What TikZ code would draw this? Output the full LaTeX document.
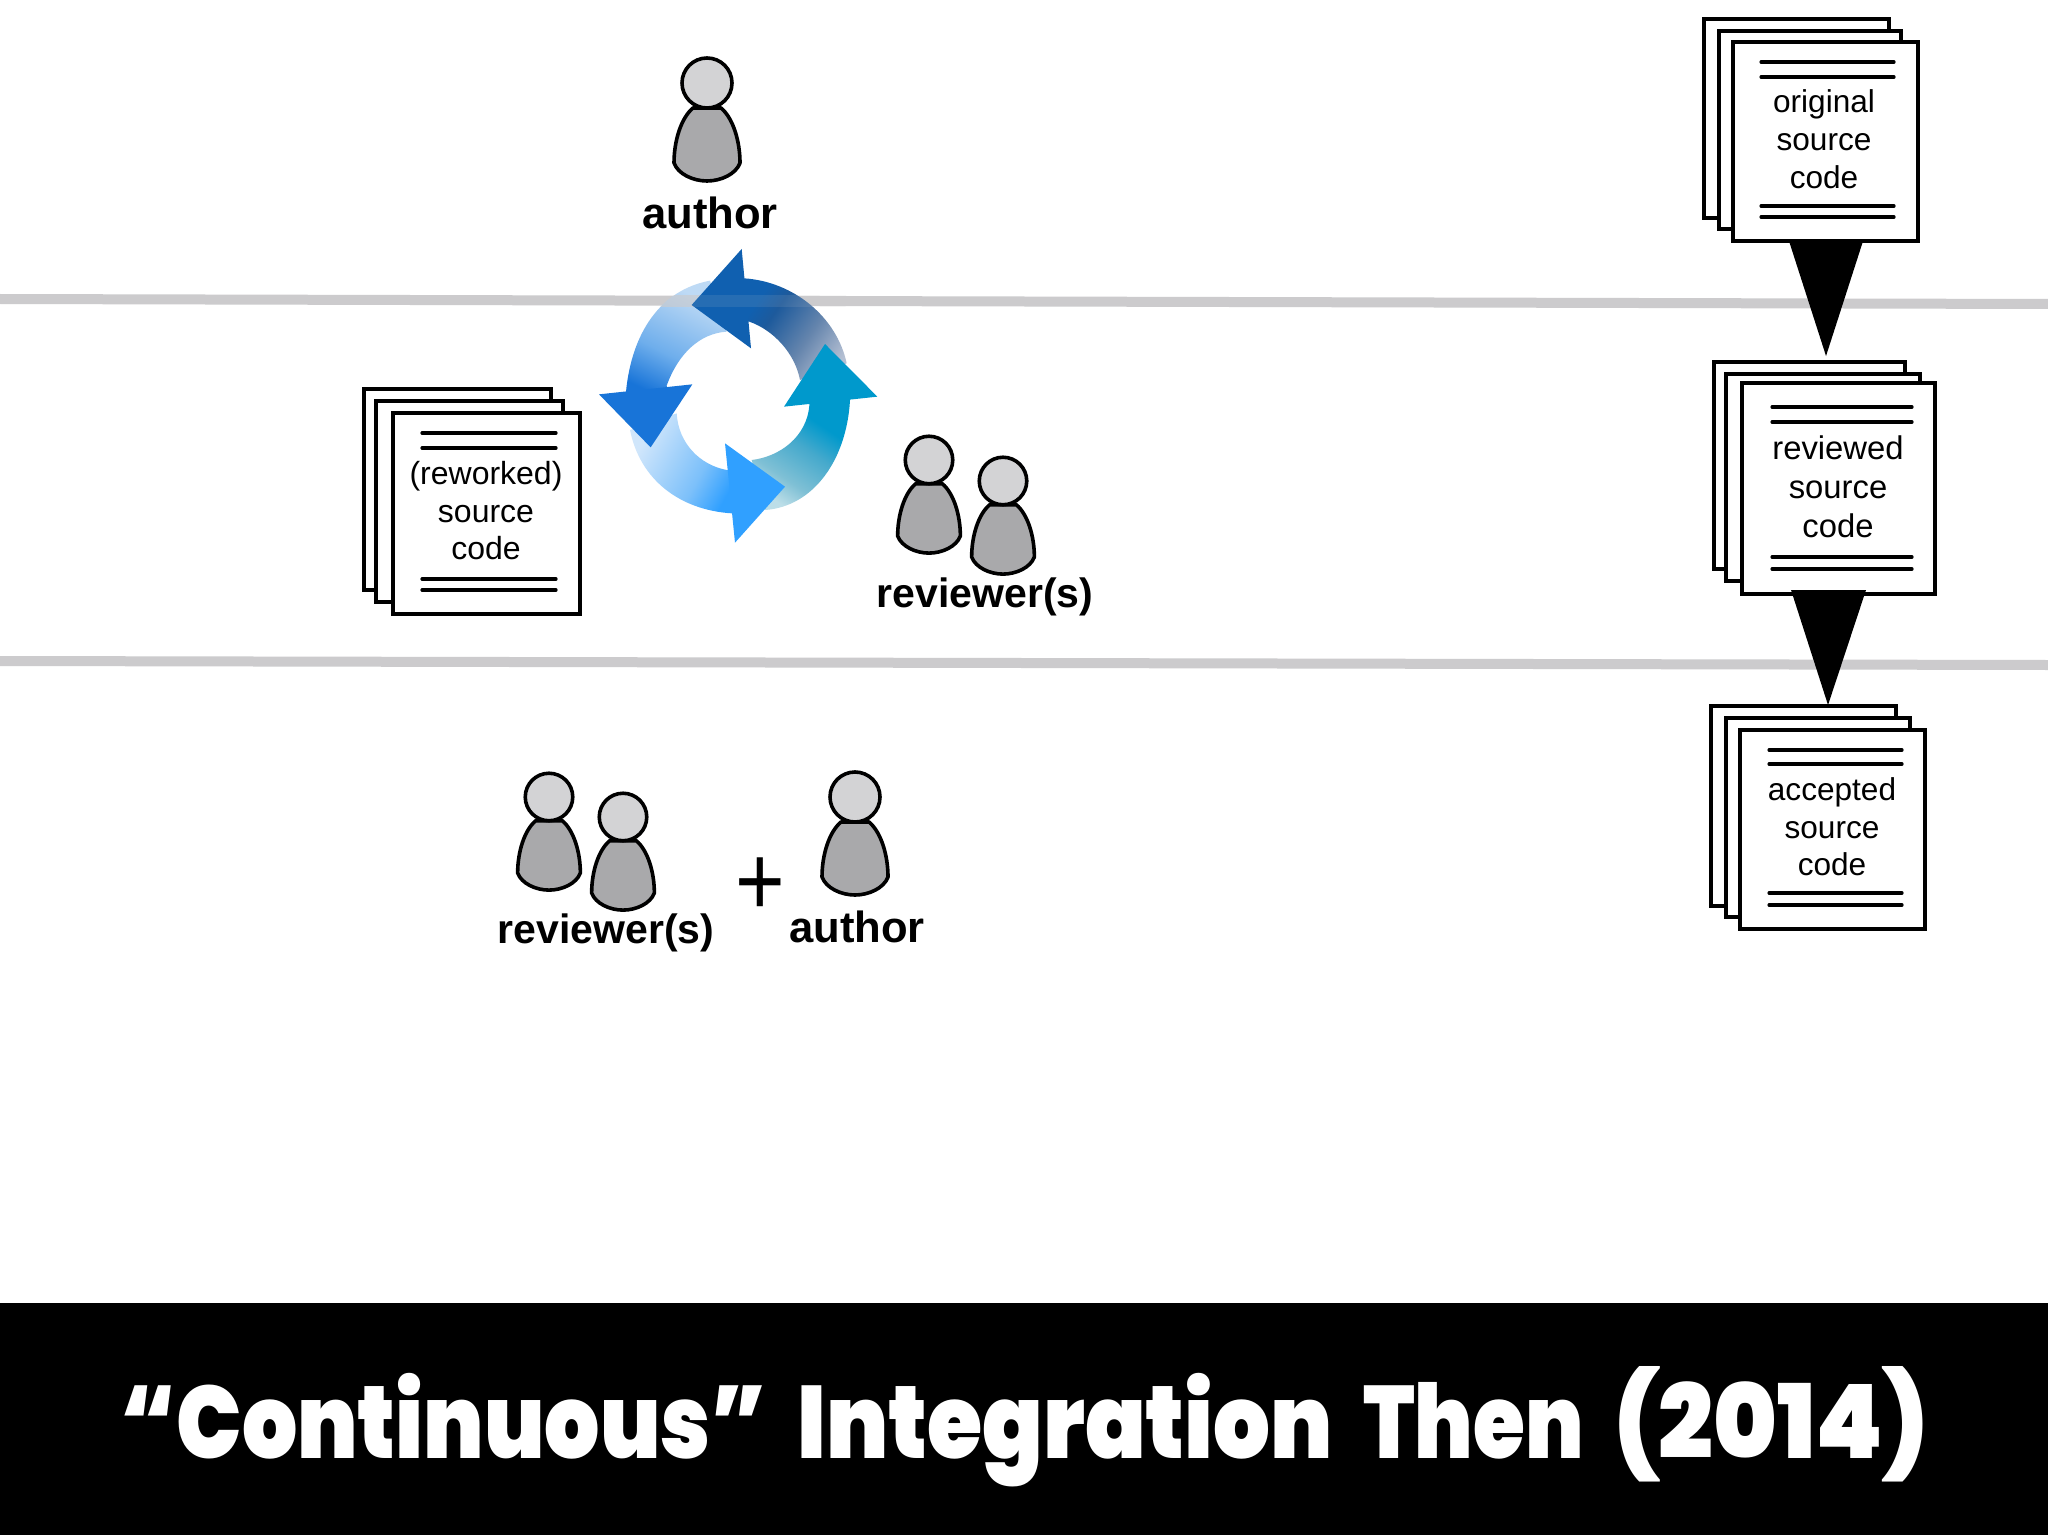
\documentclass[tikz,border=0pt]{standalone}
\usepackage{fontspec}
\usepackage{graphicx}
\setmainfont{Liberation Sans}
\newfontfamily\titlefont{Poppins}[UprightFont=* Black,WordSpace=2]
\definecolor{headgray}{HTML}{D3D3D5}
\definecolor{bodygray}{HTML}{A9A9AB}
\definecolor{rulegray}{HTML}{CCCBCD}
\definecolor{topA}{RGB}{16,96,176}
\definecolor{topB}{RGB}{29,90,156}
\definecolor{topD}{RGB}{101,133,173}
\definecolor{topC}{RGB}{181,192,211}
\definecolor{leftA}{RGB}{24,116,216}
\definecolor{leftB}{RGB}{110,174,236}
\definecolor{leftC}{RGB}{190,218,245}
\definecolor{botA}{RGB}{48,160,255}
\definecolor{botB}{RGB}{124,192,250}
\definecolor{botC}{RGB}{208,230,251}
\definecolor{rightA}{RGB}{0,153,204}
\definecolor{rightB}{RGB}{69,169,204}
\definecolor{rightD}{RGB}{127,192,213}
\definecolor{rightC}{RGB}{188,222,232}
\pgfdeclareverticalshading{topgrad}{100bp}{color(0bp)=(topC); color(23bp)=(topC); color(42bp)=(topD); color(62bp)=(topB); color(72bp)=(topA); color(100bp)=(topA)}
\pgfdeclareverticalshading{leftgrad}{100bp}{color(0bp)=(leftC); color(29bp)=(leftC); color(58bp)=(leftB); color(77bp)=(leftA); color(100bp)=(leftA)}
\pgfdeclareverticalshading{botgrad}{100bp}{color(0bp)=(botC); color(28bp)=(botC); color(60bp)=(botB); color(76bp)=(botA); color(100bp)=(botA)}
\pgfdeclareverticalshading{rightgrad}{100bp}{color(0bp)=(rightC); color(25bp)=(rightC); color(36bp)=(rightD); color(53bp)=(rightB); color(66bp)=(rightA); color(100bp)=(rightA)}
\tikzset{
  pagebox/.style={draw=black,fill=white,line width=1.55pt,line join=miter},
  rulestroke/.style={draw=black,line width=1.6pt,line cap=round},
  bodyshape/.style={draw=black,fill=bodygray,line width=1.8pt,line join=round},
  headshape/.style={draw=black,fill=headgray,line width=1.8pt},
  doctext/.style={inner sep=0pt,align=center,text=black},
  personlabel/.style={inner sep=0pt,anchor=base,text=black},
  band/.style={draw=rulegray,line width=5pt},
  pointer/.style={fill=black,draw=none}
}
\newcommand\person[3]{%
  \begin{scope}[shift={(#1,#2)},scale=#3]
    \draw[bodyshape] (-14,25) .. controls (-26,35) and (-33,58) .. (-33,80)
      .. controls (-29,91) and (-14,98) .. (0,98)
      .. controls (14,98) and (29,91) .. (33,80)
      .. controls (33,58) and (26,35) .. (14,25) -- cycle;
    \draw[headshape] (0,0) circle (25);
  \end{scope}}
\newcommand\pagerect[4]{\draw[pagebox] (#1,#2) rectangle (#3,#4);}
\newcommand\rules[6]{%
  \draw[rulestroke] (#1,#3) -- (#2,#3);
  \draw[rulestroke] (#1,#4) -- (#2,#4);
  \draw[rulestroke] (#1,#5) -- (#2,#5);
  \draw[rulestroke] (#1,#6) -- (#2,#6);}
\newcommand\topshaft{(541,115) -- (553,115) .. controls (700,125) and (830,230) .. (860,370) -- (720,420) .. controls (705,340) and (640,270) .. (568,245) -- (556,245) -- cycle}
\newcommand\leftshaft{(200,470) -- (198,455) .. controls (215,280) and (300,150) .. (450,122) -- (500,275) .. controls (420,280) and (355,340) .. (320,437) -- (322,452) -- cycle}
\newcommand\botshaft{(527,820) -- (515,820) .. controls (360,810) and (240,720) .. (210,570) -- (350,520) .. controls (355,610) and (420,675) .. (500,690) -- (512,690) -- cycle}
\newcommand\rightshaft{(870,468) -- (870,480) .. controls (860,660) and (760,800) .. (615,810) -- (575,660) .. controls (660,650) and (740,590) .. (748,497) -- (748,485) -- cycle}
\begin{document}
\begin{tikzpicture}[x=0.5pt,y=-0.5pt]
\useasboundingbox (0,0) rectangle (2048,1535);
\fill[white] (0,0) rectangle (2048,1535);
% gray bands
\draw[band] (0,299) -- (2048,304);
\draw[band] (0,661) -- (2048,665);
% cycle arrows
\begin{scope}[xshift=280pt,yshift=-120pt,x=0.16667pt,y=-0.16667pt]
  \shade[shading=topgrad,shading angle=55] \topshaft;
  \shade[shading=leftgrad,shading angle=154] \leftshaft;
  \shade[shading=botgrad,shading angle=-119] \botshaft;
  \shade[shading=rightgrad,shading angle=-34] \rightshaft;
  \begin{scope}
    \clip \leftshaft;
    \fill[rulegray,opacity=.65] (0,165) rectangle (1080,200);
  \end{scope}
  \fill[topA] (545,27) -- (395,195) -- (573,325) -- cycle;
  \fill[leftA] (117,463) -- (272,622) -- (397,433) -- cycle;
  \fill[botA] (495,610) -- (675,740) -- (525,908) -- cycle;
  \fill[rightA] (672,500) -- (795,312) -- (952,470) -- cycle;
  \begin{scope}
    \clip (545,27) -- (395,195) -- (553,310) -- (853,340) -- (860,100) -- cycle;
    \fill[rulegray,opacity=.12] (300,165) rectangle (900,200);
  \end{scope}
\end{scope}
% triangles
\fill[pointer] (1788,238) -- (1864,238) -- (1826,356) -- cycle;
% original stack
\pagerect{1704}{19}{1889}{218}
\pagerect{1719}{31}{1901}{229}
\pagerect{1733}{42}{1918}{241}
\rules{1761}{1894}{62}{77}{206}{217}
\node[doctext,font=\fontsize{15.8}{19}\selectfont] (original) at (1824,143.4) {\strut original\\\strut source\\\strut code};
% reviewed stack
\pagerect{1714}{362}{1905}{569}
\pagerect{1726}{374}{1920}{581}
\pagerect{1742}{383}{1935}{594}
\rules{1772}{1912}{407}{422}{557}{569}
\fill[pointer] (1791,590) -- (1866,590) -- (1828,705) -- cycle;
\node[doctext,font=\fontsize{16.4}{19.6}\selectfont] (reviewed) at (1838,490.5) {\strut reviewed\\\strut source\\\strut code};
% accepted stack
\pagerect{1711}{706}{1896}{906}
\pagerect{1726}{718}{1910}{917}
\pagerect{1740}{730}{1925}{929}
\rules{1769}{1902}{750}{764}{893}{905}
\node[doctext,font=\fontsize{15.8}{18.75}\selectfont] (accepted) at (1832,830.5) {\strut accepted\\\strut source\\\strut code};
% reworked stack
\pagerect{364}{389}{551}{590}
\pagerect{376}{401}{563}{602}
\pagerect{393}{413}{580}{614}
\rules{422}{556}{433}{448}{579}{590}
\node[doctext,font=\fontsize{16}{18.75}\selectfont] (reworked) at (486,514.5) {\strut (reworked)\\\strut source\\\strut code};
% people
\person{707}{83}{1}
\person{929}{460}{.95}
\person{1003}{481}{.95}
\person{549}{797}{.95}
\person{623}{817}{.95}
\person{855}{797}{1}
\node[personlabel,font=\fontsize{21.8}{24}\bfseries\selectfont] (authorA) at (710,229) {author};
\node[personlabel,font=\fontsize{20.5}{24}\bfseries\selectfont] (reviewersA) at (985,607) {reviewer(s)};
\node[personlabel,font=\fontsize{20.5}{24}\bfseries\selectfont] (reviewersB) at (606,943) {reviewer(s)};
\node[personlabel,font=\fontsize{21.8}{24}\bfseries\selectfont] (authorB) at (857,942) {author};
\node[inner sep=0pt,font=\fontsize{50}{50}\selectfont,xscale=.85] (plus) at (760,887) {+};
% banner
\fill[black] (0,1303) rectangle (2048,1535);
\node[inner sep=0pt,anchor=base west,text=white] (title) at (120,1458) {\resizebox{904pt}{46pt}{\titlefont \scalebox{.972}[1]{“Continuous”} Integration \scalebox{.94}[1]{Then} \scalebox{1.08}[1]{(2014)}}};
\end{tikzpicture}
\end{document}
